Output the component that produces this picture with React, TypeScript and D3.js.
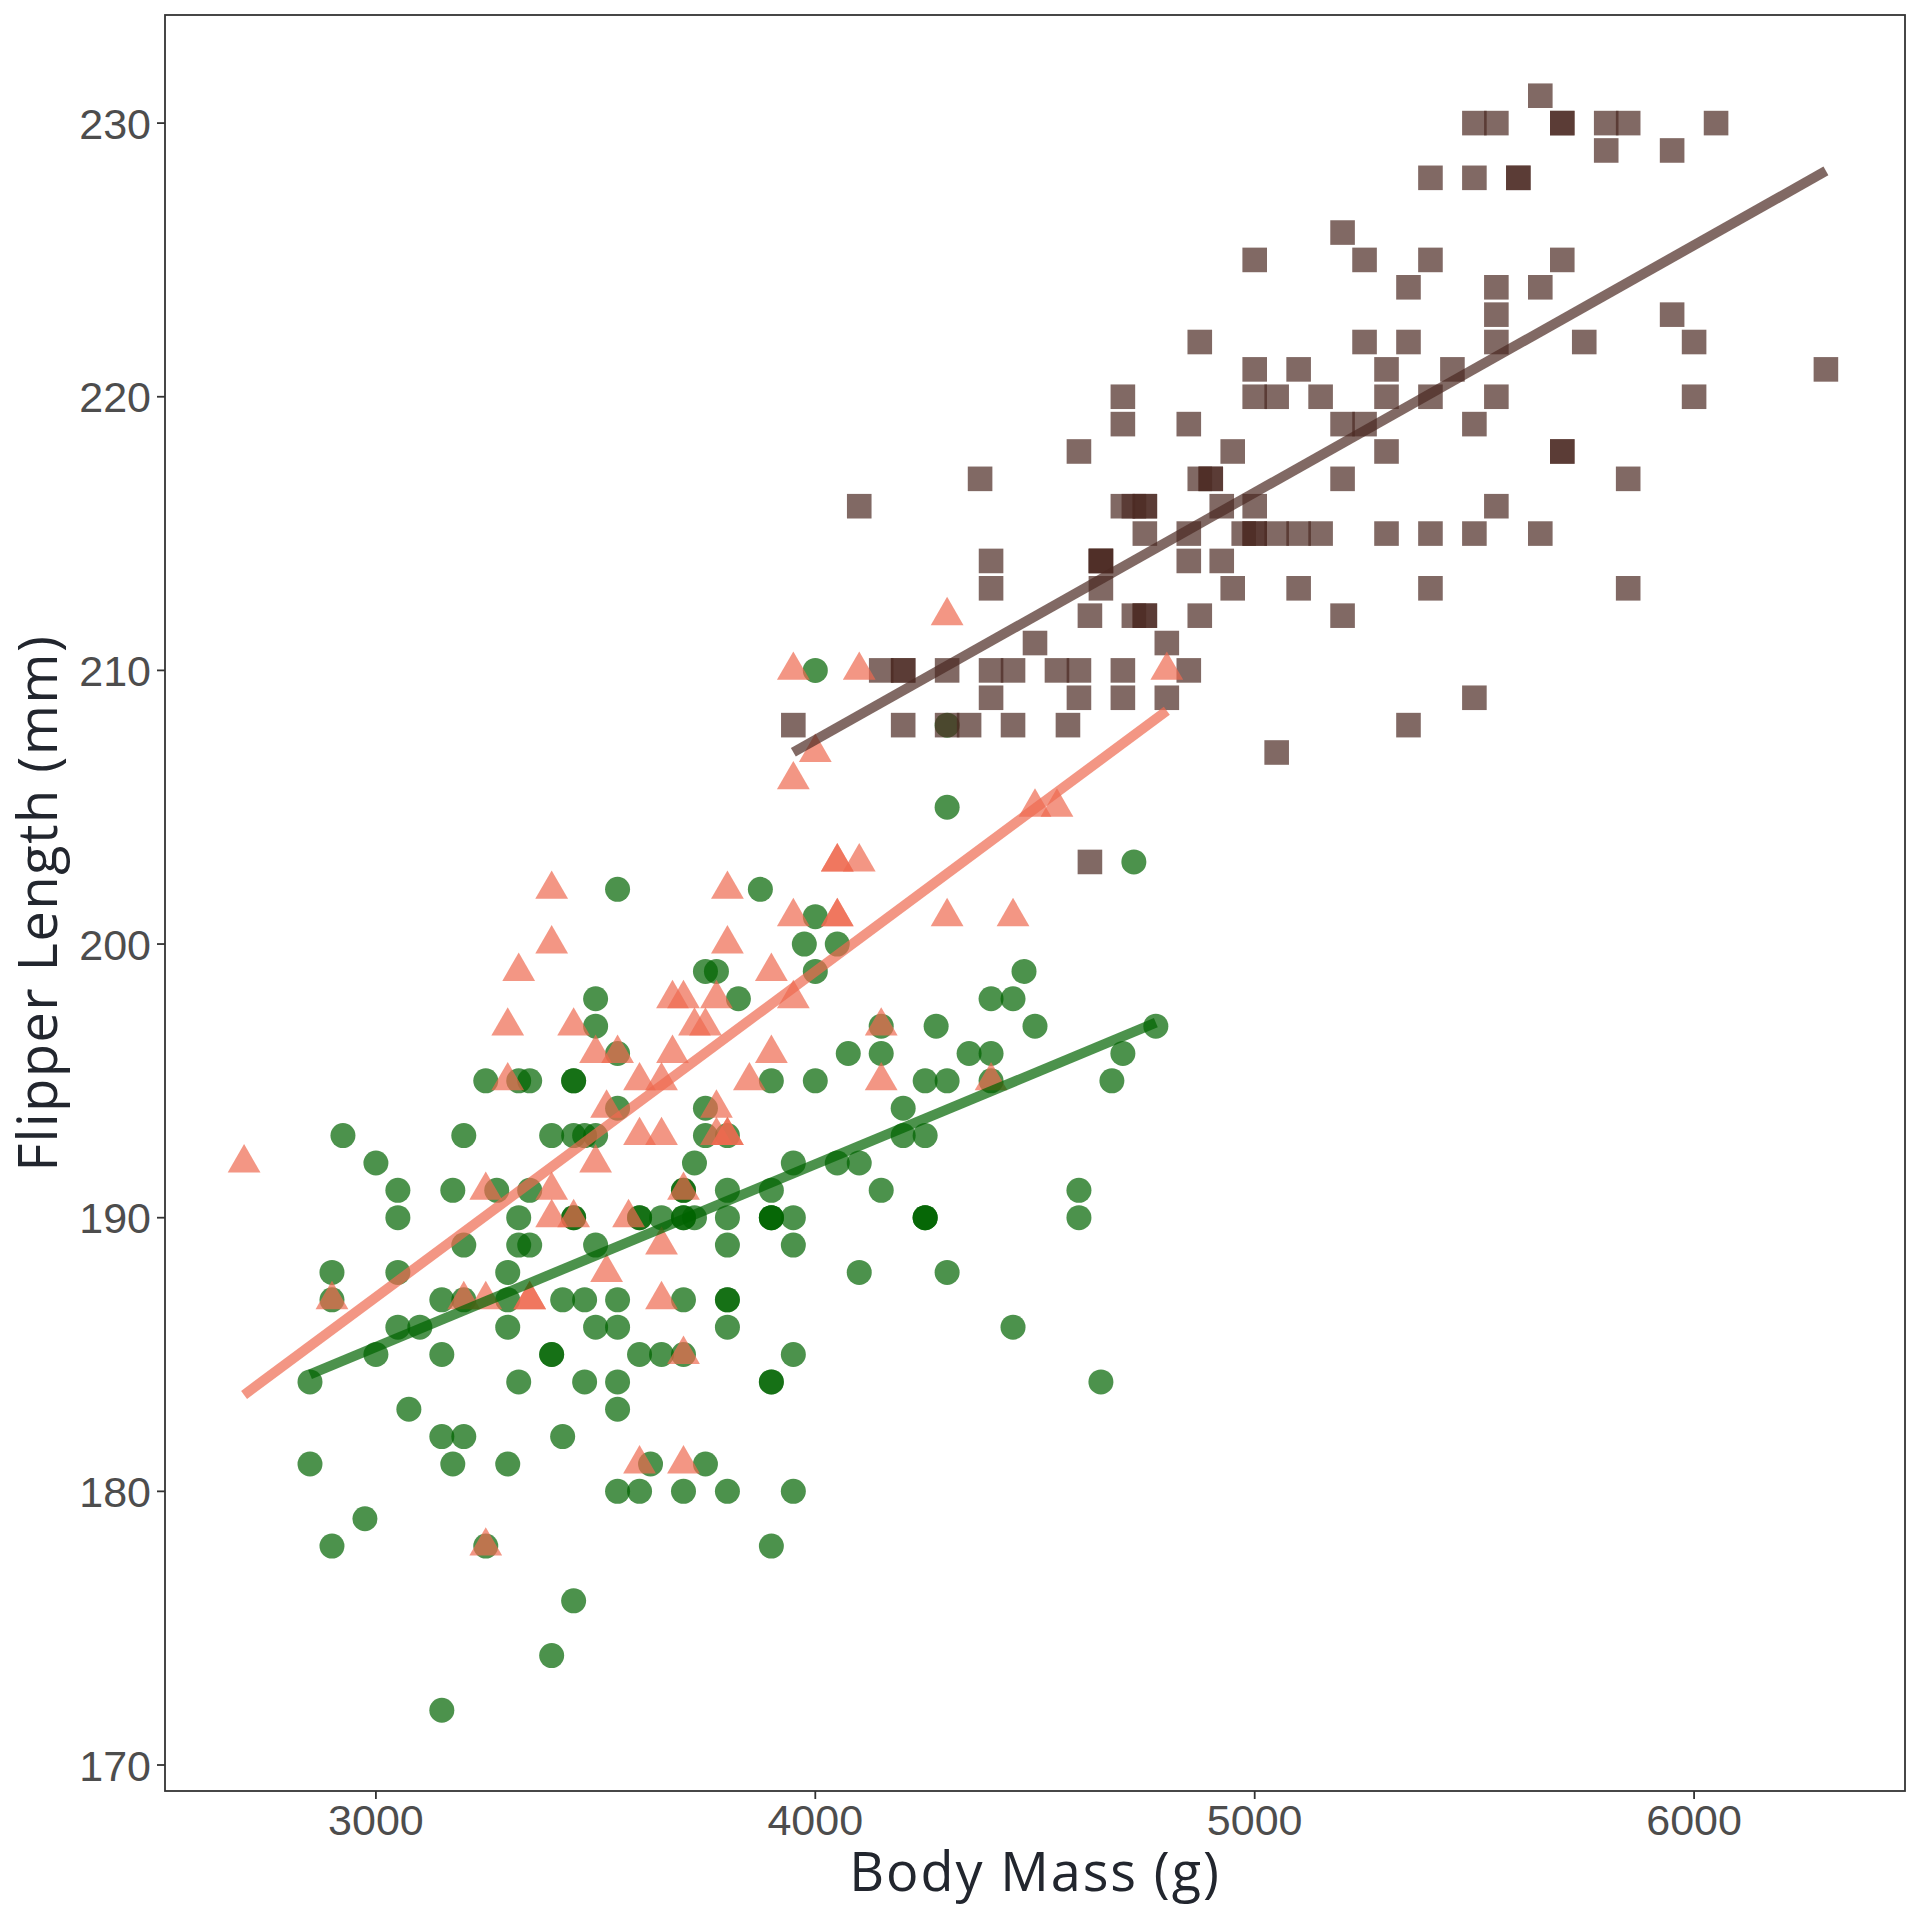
import React, { useEffect, useRef } from 'react';
import * as d3 from 'd3';

// Palmer penguins: body mass (g) vs flipper length (mm)
const adelieMass = [
    3750, 3800, 3250, 3450, 3650, 3625, 4675, 3475, 4250, 3300, 3700, 3200, 3800, 4400, 3700, 3450, 4500, 3325, 4200,
    3400, 3600, 3800, 3950, 3800, 3800, 3550, 3200, 3150, 3950,
    3250, 3900, 3300, 3900, 3325, 4150, 3950, 3550, 3300, 4650, 3150, 3900, 3100, 4400, 3000, 4600, 3425, 2975, 3450, 4150,
    3500, 4300, 3450, 4050, 2900, 3700, 3550, 3800, 2850, 3750, 3150, 4400, 3600, 4050, 2850, 3950, 3350, 4100,
    3050, 4450, 3600, 3900, 3550, 4150, 3700, 4250, 3700, 3900, 3550, 4000, 3200, 4700, 3800, 4200,
    3350, 3550, 3800, 3500, 3950, 3600, 3550, 4300, 3400, 4450, 3300, 4300, 3700, 4350, 2900, 4100,
    3725, 4725, 3075, 4250, 2925, 3550, 3750, 3900, 3175, 4775, 3825, 4600, 3200, 4275, 3900, 4075,
    2900, 3775, 3350, 3325, 3150, 3500, 3450, 3875, 3050, 4000, 3275, 4300, 3050, 4000, 3325, 3500,
    3500, 4475, 3425, 3900, 3175, 3975, 3400, 4250, 3400, 3475, 3050, 3725, 3000, 3650, 4250, 3475, 3450, 3750, 3700, 4000,
];
const adelieFlipper = [
    181, 186, 195, 193, 190, 181, 195, 193, 190, 186, 180, 182, 191, 198, 185, 195, 197, 184, 194,
    174, 180, 189, 185, 180, 187, 183, 187, 172, 180,
    178, 178, 188, 184, 195, 196, 190, 180, 181, 184, 182, 195, 186, 196, 185, 190, 182, 179, 190, 191,
    186, 188, 190, 200, 187, 191, 186, 193, 181, 194, 185, 195, 185, 192, 184, 192, 195, 188,
    190, 198, 190, 190, 196, 197, 190, 195, 191, 184, 187, 195, 189, 196, 187, 193,
    191, 194, 190, 189, 189, 190, 202, 205, 185, 186, 187, 208, 190, 196, 178, 192,
    192, 203, 183, 190, 193, 184, 199, 190, 181, 197, 198, 191, 193, 197, 191, 196,
    188, 199, 189, 189, 187, 198, 176, 202, 186, 199, 191, 195, 191, 210, 190, 197,
    193, 199, 187, 190, 191, 200, 185, 193, 193, 187, 188, 190, 192, 185, 190, 184, 195, 193, 187, 201,
];

const gentooMass = [
    4500, 5700, 4450, 5700, 5400, 4550, 4800, 5200, 4400, 5150, 4650, 5550, 4650, 5850, 4200, 5850, 4150, 6300, 4800, 5350,
    5700, 5000, 4400, 5050, 5000, 5100, 4100, 5650, 4600, 5550, 5250, 4700, 5050, 6050, 5150, 5400, 4950, 5250, 4350, 5350,
    3950, 5700, 4300, 4750, 5550, 4900, 4200, 5400, 5100, 5300, 4850, 5300, 4400, 5000, 4900, 5050, 4300, 5000, 4450, 5550,
    4200, 5300, 4400, 5650, 4700, 5700, 4650, 5800, 4700, 5550, 4750, 5000, 5100, 5200, 4700, 5800, 4600, 6000, 4750, 5950,
    4625, 5450, 4725, 5350, 4750, 5600, 4600, 5300, 4875, 5550, 4950, 5400, 4750, 5650, 4850, 5200, 4925, 4875, 4625, 5250,
    4850, 5600, 4975, 5500, 4725, 5500, 4700, 5500, 4575, 5500, 5000, 5950, 4650, 5500, 4375, 5850, 4875, 6000, 4925, 4850,
    5750, 5200, 5400,
];
const gentooFlipper = [
    211, 230, 210, 218, 215, 210, 211, 219, 209, 215, 214, 216, 214, 213, 210, 217, 210, 221, 209, 222,
    218, 215, 213, 215, 215, 215, 216, 215, 210, 220, 222, 209, 207, 230, 220, 220, 213, 219, 208, 208,
    208, 225, 210, 216, 222, 217, 210, 225, 213, 215, 210, 220, 210, 225, 217, 220, 208, 220, 208, 224,
    208, 221, 214, 231, 219, 230, 214, 229, 220, 223, 216, 221, 221, 217, 216, 230, 209, 220, 215, 223,
    212, 221, 212, 224, 212, 228, 218, 218, 212, 230, 218, 228, 212, 224, 214, 226, 216, 222, 203, 225,
    219, 228, 215, 228, 216, 215, 210, 219, 208, 209, 216, 229, 213, 230, 217, 230, 217, 222, 214, 215,
    222, 212, 213,
];

const chinstrapMass = [
    3500, 3900, 3650, 3525, 3725, 3950, 3250, 3750, 4150, 3700, 3800, 3775, 3700, 4050, 3575, 4050, 3300, 3700, 3450, 4400,
    3600, 3400, 2900, 3800, 3300, 4150, 3400, 3800, 3700, 4550, 3200, 4300, 3350, 4100, 3600, 3900, 3850, 4800, 2700, 4500,
    3950, 3650, 3550, 3500, 3675, 4450, 3400, 4300, 3250, 3675, 3325, 3950, 3600, 4050, 3350, 3450, 3250, 4050, 3800, 3525,
    3950, 3650, 3650, 4000, 3400, 3775, 4100, 3775,
];
const chinstrapFlipper = [
    192, 196, 193, 188, 197, 198, 178, 197, 195, 198, 193, 194, 185, 201, 190, 201, 197, 181, 190, 195,
    181, 191, 187, 193, 195, 197, 200, 200, 191, 205, 187, 201, 187, 203, 195, 199, 195, 210, 192, 205,
    210, 187, 196, 196, 196, 201, 190, 212, 187, 198, 199, 201, 193, 203, 187, 197, 191, 203, 202, 194,
    206, 189, 195, 207, 202, 193, 210, 198,
];

const xTicks = [3000, 4000, 5000, 6000];
const yTicks = [170, 180, 190, 200, 210, 220, 230];

interface Point { mass: number, flipper: number }
interface Species { name: string, shape: string, color: string, points: Point[] }

const zip = (m: number[], f: number[]): Point[] => m.map((d, i) => ({ mass: d, flipper: f[i] }));

const species: Species[] = [
    { name: 'Adelie', shape: 'circle', color: '#006400', points: zip(adelieMass, adelieFlipper) },
    { name: 'Gentoo', shape: 'square', color: '#4c2922', points: zip(gentooMass, gentooFlipper) },
    { name: 'Chinstrap', shape: 'triangle', color: '#ee6a50', points: zip(chinstrapMass, chinstrapFlipper) },
];
const lineOrder = ['Adelie', 'Chinstrap', 'Gentoo'];

const width = 1920;
const height = 1920;
const marginTop = 15;
const marginRight = 15;
const marginBottom = 129;
const marginLeft = 165;

const fitLine = (pts: Point[]): Point[] => {
    const mx = d3.mean(pts, d => d.mass) as number;
    const my = d3.mean(pts, d => d.flipper) as number;
    const sxy = d3.sum(pts, d => (d.mass - mx) * (d.flipper - my));
    const sxx = d3.sum(pts, d => (d.mass - mx) ** 2);
    const slope = sxy / sxx;
    const [x0, x1] = d3.extent(pts, d => d.mass) as [number, number];
    return [x0, x1].map(x => ({ mass: x, flipper: my + slope * (x - mx) }));
};

const App: React.FC = () => {
    const svgRef = useRef<SVGSVGElement | null>(null);

    useEffect(() => {
        const svg = d3.select(svgRef.current);
        svg.selectAll('*').remove();

        const all = species.flatMap(s => s.points);
        const [xmin, xmax] = d3.extent(all, d => d.mass) as [number, number];
        const [ymin, ymax] = d3.extent(all, d => d.flipper) as [number, number];
        const xpad = (xmax - xmin) * 0.05;
        const ypad = (ymax - ymin) * 0.05;

        const x = d3.scaleLinear().domain([xmin - xpad, xmax + xpad]).range([marginLeft, width - marginRight]);
        const y = d3.scaleLinear().domain([ymin - ypad, ymax + ypad]).range([height - marginBottom, marginTop]);

        svg.append('rect')
            .attr('width', width).attr('height', height).attr('fill', 'white');

        const symbols: Record<string, d3.SymbolType> = {
            circle: d3.symbolCircle,
            square: d3.symbolSquare,
            triangle: d3.symbolTriangle,
        };
        const sizes: Record<string, number> = { circle: Math.PI * 12.5 * 12.5, square: 24.6 * 24.6, triangle: 0.433 * 32.8 * 32.8 };

        species.forEach(s => {
            const sym = d3.symbol(symbols[s.shape], sizes[s.shape]);
            // d3 triangle is centred on its centroid already
            svg.append('g')
                .selectAll('path')
                .data(s.points)
                .join('path')
                .attr('transform', d => `translate(${x(d.mass)},${y(d.flipper)})`)
                .attr('d', sym() as string)
                .attr('fill', s.color)
                .attr('fill-opacity', 0.7);
        });

        const line = d3.line<Point>().x(d => x(d.mass)).y(d => y(d.flipper));
        lineOrder.forEach(name => {
            const s = species.find(d => d.name === name) as Species;
            svg.append('path')
                .attr('d', line(fitLine(s.points)))
                .attr('fill', 'none')
                .attr('stroke', s.color)
                .attr('stroke-opacity', 0.7)
                .attr('stroke-width', 10);
        });

        svg.append('rect')
            .attr('x', marginLeft).attr('y', marginTop)
            .attr('width', width - marginLeft - marginRight)
            .attr('height', height - marginTop - marginBottom)
            .attr('fill', 'none')
            .attr('stroke', '#333333')
            .attr('stroke-width', 1.8);

        const xAxis = svg.append('g').attr('transform', `translate(0, ${height - marginBottom})`);
        xAxis.selectAll('line').data(xTicks).join('line')
            .attr('x1', d => x(d)).attr('x2', d => x(d))
            .attr('y1', 0).attr('y2', 8)
            .attr('stroke', '#333333').attr('stroke-width', 1.8);
        xAxis.selectAll('text').data(xTicks).join('text')
            .attr('x', d => x(d)).attr('y', 44)
            .attr('text-anchor', 'middle')
            .attr('font-family', '"Liberation Sans", Arial, sans-serif')
            .attr('font-size', 43)
            .attr('fill', '#4d4d4d')
            .text(d => d);

        const yAxis = svg.append('g').attr('transform', `translate(${marginLeft}, 0)`);
        yAxis.selectAll('line').data(yTicks).join('line')
            .attr('x1', -8).attr('x2', 0)
            .attr('y1', d => y(d)).attr('y2', d => y(d))
            .attr('stroke', '#333333').attr('stroke-width', 1.8);
        yAxis.selectAll('text').data(yTicks).join('text')
            .attr('x', -14).attr('y', d => y(d) + 15.5)
            .attr('text-anchor', 'end')
            .attr('font-family', '"Liberation Sans", Arial, sans-serif')
            .attr('font-size', 43)
            .attr('fill', '#4d4d4d')
            .text(d => d);

        svg.append('text')
            .attr('x', (marginLeft + width - marginRight) / 2)
            .attr('y', 1891)
            .attr('text-anchor', 'middle')
            .attr('font-family', '"Open Sans", sans-serif')
            .attr('font-size', 54)
            .attr('letter-spacing', 1.9)
            .attr('fill', '#22262e')
            .text('Body Mass (g)');

        svg.append('text')
            .attr('transform', `translate(57, ${(marginTop + height - marginBottom) / 2}) rotate(-90)`)
            .attr('text-anchor', 'middle')
            .attr('font-family', '"Open Sans", sans-serif')
            .attr('font-size', 54)
            .attr('letter-spacing', 1.6)
            .attr('fill', '#22262e')
            .text('Flipper Length (mm)');
    }, []);

    return (
        <div style={{ position: 'absolute', left: 0, top: 0 }}>
            <svg ref={svgRef} width={width} height={height} viewBox={`0 0 ${width} ${height}`} style={{ display: 'block' }}></svg>
        </div>
    );
};

export default App;
